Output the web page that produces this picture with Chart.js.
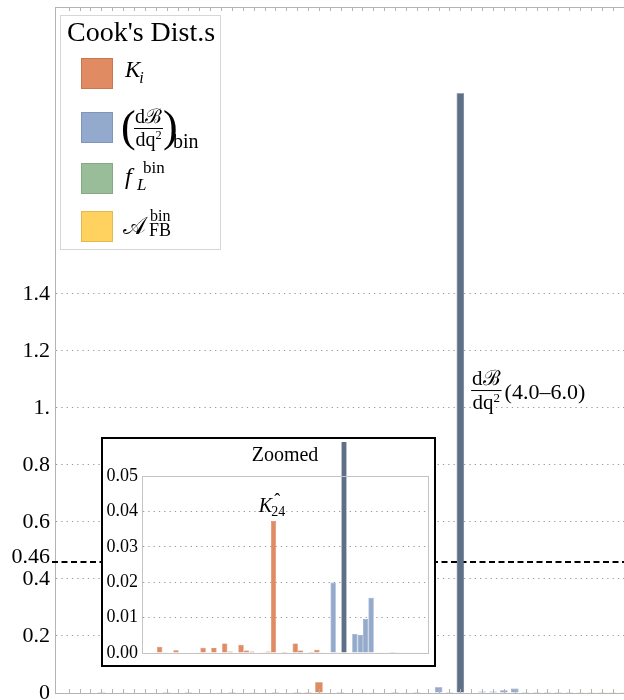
<!DOCTYPE html>
<html lang="en">
<head>
<meta charset="UTF-8">
<meta name="viewport" content="width=device-width, initial-scale=1.0">
<title>Cook's distances</title>
<style>
  body { margin: 0; width: 624px; height: 700px; overflow: hidden; background: #fff; position: relative; }
  #mainChart { position: absolute; left: 0; top: 0; }
  #insetBox {
    position: absolute; left: 101px; top: 437px; width: 335px; height: 230px;
    box-sizing: border-box; border: 2px solid #000; background: #fff;
  }
  #insetChart { display: block; }
</style>
<script src="https://cdn.jsdelivr.net/npm/chart.js"></script>
</head>
<body>
<canvas id="mainChart" width="640" height="700"></canvas>
<div id="insetBox"><canvas id="insetChart" width="331" height="226"></canvas></div>

<script>
// Cook's distance per fit input
const kValues = [0, 0, 0.0018, 0.0002, 0, 0.0008, 0, 0, 0, 0.0002, 0.0015, 0.0001,
                 0.0014, 0, 0.0027, 0.0004, 0, 0.0023, 0.0007, 0.0004, 0, 0.0001,
                 0.0004, 0.0373, 0, 0.0003, 0, 0.0027, 0.0007, 0, 0.0003, 0.0009, 0.0002];
const dbValues = [0, 0.0199, 0.0001, 2.104, 0, 0.0054, 0.0051, 0.0096, 0.0156];
const flValues = [0.0002, 0.0001, 0.0001, 0.0003, 0.0001];
const afbValues = [0.0001, 0.0002, 0.0001, 0.0001, 0.0001];

const highlightIndex = 3;            // the dB/dq2 bin 4.0-6.0
const highlightLabel = '(4.0–6.0)';
const labelledK = 23;                // K24, marked in the zoom
const cutoff = 0.46;
const labelLevel = 1.063;

const yTicks = [0, 0.2, 0.4, 0.6, 0.8, 1, 1.2, 1.4];
const yTickLabels = ['0', '0.2', '0.4', '0.6', '0.8', '1.', '1.2', '1.4'];
const insetTicks = [0, 0.01, 0.02, 0.03, 0.04, 0.05];
const insetTickLabels = ['0.00', '0.01', '0.02', '0.03', '0.04', '0.05'];

const colors = {
  k: '#E08B62', db: '#94AACC', fl: '#9ABD99', afb: '#FFD260', hi: '#5E6F87'
};
const edges = {
  k: '#C9774F', db: '#7F95BA', fl: '#86A985', afb: '#E3B84E', hi: '#4E5E74'
};

const FONT = '"Liberation Serif", "Times New Roman", "DejaVu Serif", serif';

// place the series one after another on the x axis
const kStart = 1;
const dbStart = kStart + kValues.length;
const flStart = dbStart + dbValues.length;
const afbStart = flStart + flValues.length;
const lastPos = afbStart + afbValues.length - 1;
const positions = [];
for (let i = 1; i <= lastPos; i++) positions.push(i);

function toPoints(vals, start) {
  return vals.map((v, i) => ({ x: start + i, y: v }));
}

function makeDatasets(barPct, clip) {
  const common = { grouped: false, barPercentage: barPct, categoryPercentage: 1, borderWidth: 0.6, clip: clip };
  return [
    Object.assign({ label: 'K', data: toPoints(kValues, kStart), backgroundColor: colors.k, borderColor: edges.k }, common),
    Object.assign({
      label: 'dB/dq2', data: toPoints(dbValues, dbStart),
      backgroundColor: ctx => ctx.dataIndex === highlightIndex ? colors.hi : colors.db,
      borderColor: ctx => ctx.dataIndex === highlightIndex ? edges.hi : edges.db
    }, common),
    Object.assign({ label: 'fL', data: toPoints(flValues, flStart), backgroundColor: colors.fl, borderColor: edges.fl }, common),
    Object.assign({ label: 'AFB', data: toPoints(afbValues, afbStart), backgroundColor: colors.afb, borderColor: edges.afb }, common)
  ];
}

function setFont(ctx, size, style) {
  ctx.font = (style ? style + ' ' : '') + size + 'px ' + FONT;
}

function text(ctx, str, x, y, size, style) {
  setFont(ctx, size, style);
  ctx.fillText(str, x, y);
  return ctx.measureText(str).width;
}

// little stacked fraction, returns its width
function fraction(ctx, x, yLine, size, num, den) {
  setFont(ctx, size);
  const wn = ctx.measureText(num).width;
  const wd = ctx.measureText('dq').width;
  setFont(ctx, size * 0.62);
  const w2 = ctx.measureText('2').width;
  const w = Math.max(wn, wd + w2) + 2;
  ctx.fillStyle = '#000';
  text(ctx, num, x + (w - wn) / 2, yLine - size * 0.25, size);
  const dx = x + (w - wd - w2) / 2;
  text(ctx, den, dx, yLine + size * 0.9, size);
  text(ctx, '2', dx + wd, yLine + size * 0.55, size * 0.62);
  ctx.strokeStyle = '#000';
  ctx.lineWidth = 1;
  ctx.beginPath();
  ctx.moveTo(x, yLine + 0.5);
  ctx.lineTo(x + w, yLine + 0.5);
  ctx.stroke();
  return w;
}

function drawLegend(ctx) {
  ctx.save();
  ctx.fillStyle = '#fff';
  ctx.fillRect(60, 15, 160, 234);
  ctx.strokeStyle = '#d6d6d6';
  ctx.lineWidth = 1;
  ctx.strokeRect(60.5, 15.5, 160, 234);

  ctx.fillStyle = '#000';
  ctx.textAlign = 'left';
  ctx.textBaseline = 'alphabetic';
  text(ctx, "Cook's Dist.s", 67, 41, 28);

  const rows = [[colors.k, edges.k, 58], [colors.db, edges.db, 112], [colors.fl, edges.fl, 163], [colors.afb, edges.afb, 211]];
  rows.forEach(r => {
    ctx.fillStyle = r[0];
    ctx.fillRect(81, r[2], 31, 30);
    ctx.strokeStyle = r[1];
    ctx.strokeRect(81.5, r[2] + 0.5, 31, 30);
  });

  ctx.fillStyle = '#000';
  // K_i
  const wk = text(ctx, 'K', 125, 77, 23, 'italic');
  text(ctx, 'i', 125 + wk - 1, 83, 16, 'italic');

  // (dB/dq2)_bin
  text(ctx, '(', 121, 141, 44);
  const wf = fraction(ctx, 134, 128, 20, 'd\u212C', 'dq');
  text(ctx, ')', 134 + wf, 141, 44);
  text(ctx, 'bin', 173, 148, 20);

  // f_L^bin
  text(ctx, 'f', 125, 184, 24, 'italic');
  text(ctx, 'bin', 143, 173, 17);
  text(ctx, 'L', 137, 190, 17, 'italic');

  // A_FB^bin
  text(ctx, '\u{1D49C}', 123, 234, 24);
  text(ctx, 'bin', 150, 221, 16);
  text(ctx, 'FB', 149, 236, 18);
  ctx.restore();
}

const mainDecor = {
  id: 'mainDecor',
  beforeDatasetsDraw(chart) {
    const { ctx, chartArea } = chart;
    const y = chart.scales.y.getPixelForValue(cutoff);
    ctx.save();
    ctx.strokeStyle = '#000';
    ctx.lineWidth = 2;
    ctx.setLineDash([6, 3.5]);
    ctx.beginPath();
    ctx.moveTo(chartArea.left - 3, y);
    ctx.lineTo(chartArea.right, y);
    ctx.stroke();
    ctx.fillStyle = '#000';
    ctx.textAlign = 'right';
    ctx.textBaseline = 'alphabetic';
    text(ctx, String(cutoff), chartArea.left - 5, y + 1, 22);
    ctx.restore();
  },
  afterDatasetsDraw(chart) {
    const { ctx, chartArea } = chart;
    const xs = chart.scales.x;
    ctx.save();
    // frame: top edge, bottom axis and little inward ticks
    ctx.strokeStyle = '#b4b4b4';
    ctx.lineWidth = 1;
    ctx.beginPath();
    ctx.moveTo(chartArea.left, chartArea.top + 0.5);
    ctx.lineTo(chartArea.right, chartArea.top + 0.5);
    ctx.moveTo(chartArea.left, chartArea.bottom + 0.5);
    ctx.lineTo(chartArea.right, chartArea.bottom + 0.5);
    positions.forEach(p => {
      const x = Math.round(xs.getPixelForValue(p)) + 0.5;
      ctx.moveTo(x, chartArea.bottom);
      ctx.lineTo(x, chartArea.bottom - 4);
      ctx.moveTo(x, chartArea.top);
      ctx.lineTo(x, chartArea.top + 4);
    });
    ctx.stroke();

    // label next to the 4.0-6.0 bar
    const bar = chart.getDatasetMeta(1).data[highlightIndex];
    const x0 = bar.x + bar.width / 2 + 7;
    const yLine = chart.scales.y.getPixelForValue(labelLevel);
    ctx.textAlign = 'left';
    ctx.textBaseline = 'alphabetic';
    const wf = fraction(ctx, x0, yLine, 21, 'd\u212C', 'dq');
    ctx.fillStyle = '#000';
    text(ctx, highlightLabel, x0 + wf + 3, yLine + 9, 22);

    drawLegend(ctx);
    ctx.restore();
  }
};

new Chart(document.getElementById('mainChart'), {
  type: 'bar',
  data: { datasets: makeDatasets(0.69, 0) },
  options: {
    responsive: false,
    animation: false,
    layout: { padding: { top: 7, bottom: 7, left: 0, right: 11 } },
    plugins: { legend: { display: false }, tooltip: { enabled: false } },
    scales: {
      x: {
        type: 'linear', offset: false, min: -0.26, max: lastPos + 0.5, display: false,
        afterBuildTicks: s => { s.ticks = positions.map(v => ({ value: v })); }
      },
      y: {
        min: 0, max: 2.407,
        afterBuildTicks: s => { s.ticks = yTicks.map(v => ({ value: v })); },
        afterFit: s => { s.width = 55; s.paddingTop = 0; s.paddingBottom = 0; },
        ticks: {
          padding: 5, color: '#000', font: { family: FONT, size: 22 },
          callback: (v, i) => yTickLabels[i]
        },
        grid: { color: '#9a9a9a', lineWidth: 1, drawTicks: false },
        border: { color: '#b4b4b4', dash: [1.3, 4] }
      }
    }
  },
  plugins: [mainDecor]
});

const insetDecor = {
  id: 'insetDecor',
  afterDatasetsDraw(chart) {
    const { ctx, chartArea } = chart;
    ctx.save();
    ctx.strokeStyle = '#c4c4c4';
    ctx.lineWidth = 1;
    ctx.strokeRect(chartArea.left + 0.5, chartArea.top + 0.5,
                   chartArea.right - chartArea.left, chartArea.bottom - chartArea.top);
    ctx.fillStyle = '#000';
    ctx.textAlign = 'center';
    ctx.textBaseline = 'alphabetic';
    text(ctx, 'Zoomed', (chartArea.left + chartArea.right) / 2, chartArea.top - 15, 20);

    // K24 label above its bar
    const bar = chart.getDatasetMeta(0).data[labelledK];
    ctx.textAlign = 'left';
    setFont(ctx, 20, 'italic');
    const wk = ctx.measureText('K').width;
    setFont(ctx, 14);
    const ws = ctx.measureText('24').width;
    const x = bar.x - (wk + ws) / 2 - 1;
    const y = bar.y - 9;
    text(ctx, 'K', x, y, 20, 'italic');
    text(ctx, 'ˆ', x + wk + 2, y - 6, 18);
    text(ctx, '24', x + wk - 1, y + 4, 14);
    ctx.restore();
  }
};

new Chart(document.getElementById('insetChart'), {
  type: 'bar',
  data: { datasets: makeDatasets(0.97, { left: 0, top: 34, right: 0, bottom: 0 }) },
  options: {
    responsive: false,
    animation: false,
    layout: { padding: { top: 37, bottom: 12, left: 0, right: 6 } },
    plugins: { legend: { display: false }, tooltip: { enabled: false } },
    scales: {
      x: {
        type: 'linear', offset: false, min: -0.27, max: lastPos + 0.5, display: false,
        afterBuildTicks: s => { s.ticks = positions.map(v => ({ value: v })); }
      },
      y: {
        min: 0, max: 0.05,
        afterBuildTicks: s => { s.ticks = insetTicks.map(v => ({ value: v })); },
        afterFit: s => { s.width = 39; s.paddingTop = 0; s.paddingBottom = 0; },
        ticks: {
          padding: 4, color: '#000', font: { family: FONT, size: 18 },
          callback: (v, i) => insetTickLabels[i]
        },
        grid: { color: '#9a9a9a', lineWidth: 1, drawTicks: false },
        border: { color: '#c4c4c4', dash: [1.3, 4] }
      }
    }
  },
  plugins: [insetDecor]
});
</script>
</body>
</html>
